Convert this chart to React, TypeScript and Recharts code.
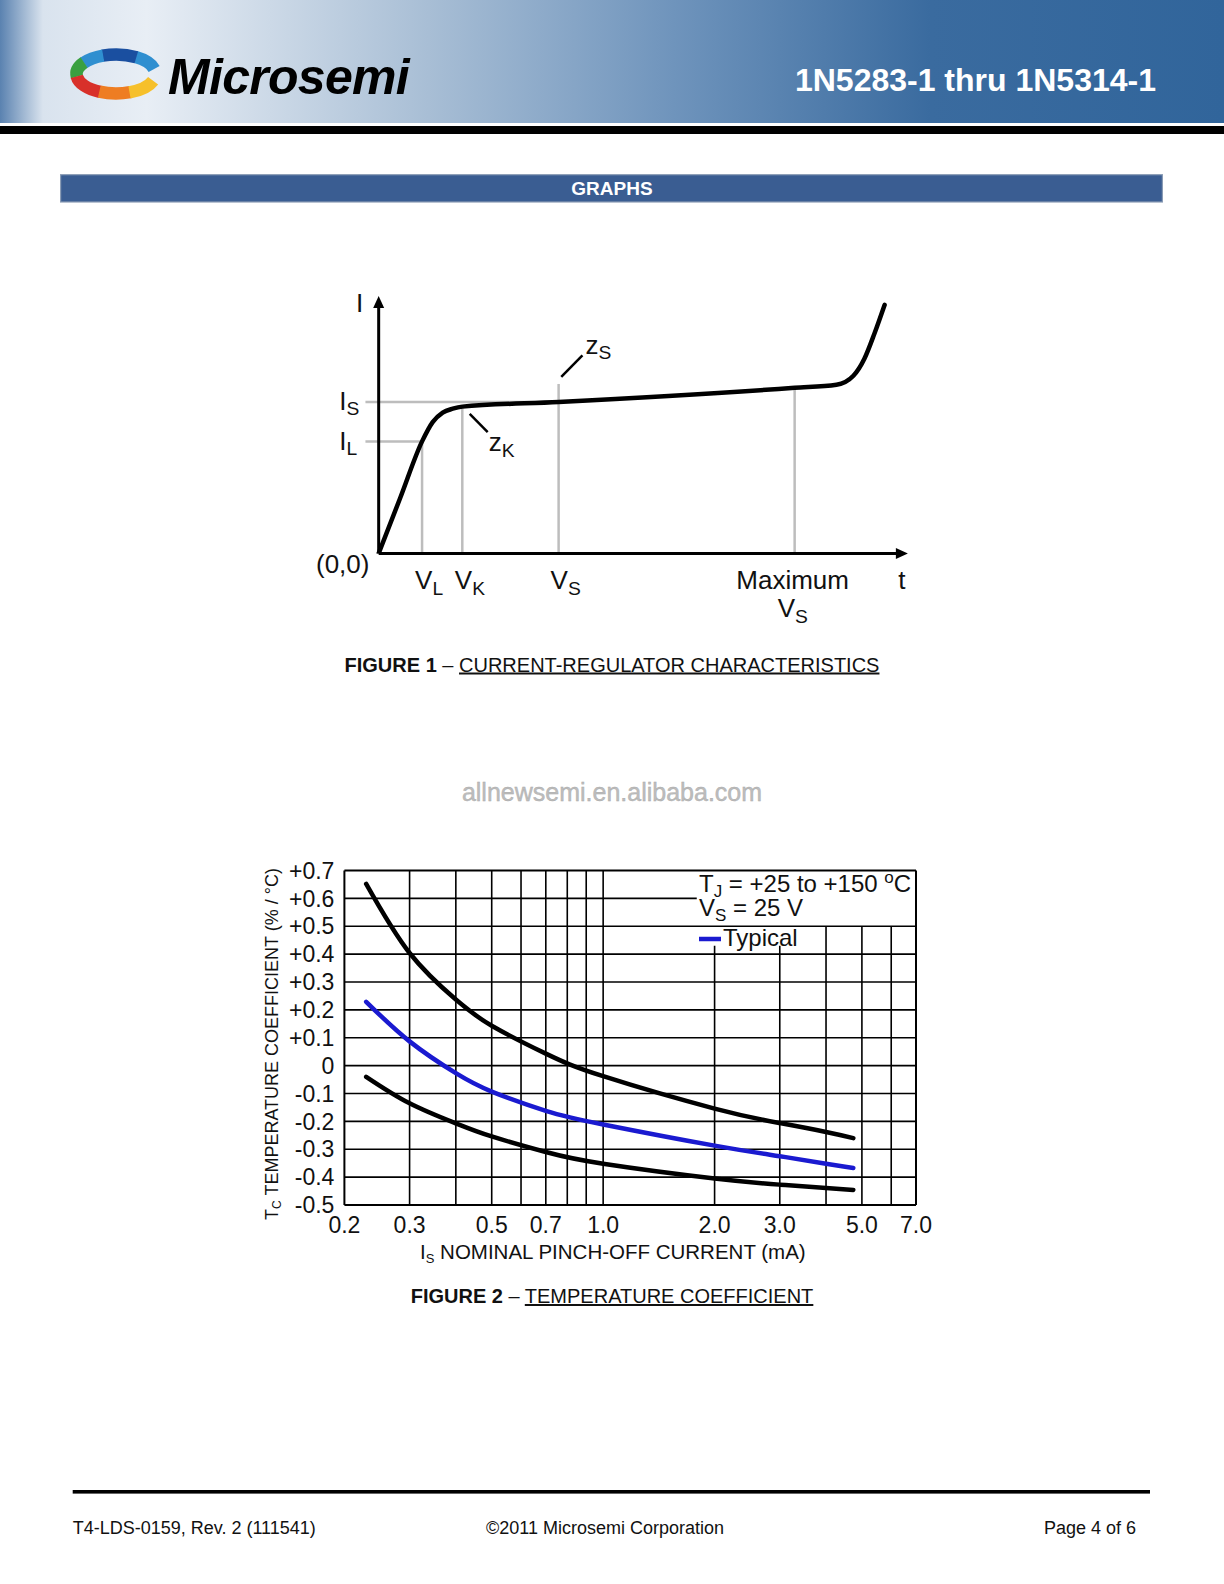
import React from "react";
import { LineChart, Line, XAxis, YAxis, ReferenceLine, ReferenceDot } from "recharts";

const FONT = "'Liberation Sans', Arial, Helvetica, sans-serif";
const INK = "#111";

// ---- Figure 1: current-regulator characteristic (schematic, arbitrary units) ----
const fig1V = [0, 4.1, 8.2, 10.2, 12.1, 14.0, 15.8, 34.0, 78.6, 86.5, 89.7, 91.8, 93.7, 95.6];
const fig1I = [0, 21.7, 43.5, 51.0, 54.7, 56.2, 57.0, 58.8, 64.3, 65.5, 69.0, 75.7, 85.5, 96.5];

const V_L = 8.2;
const V_K = 15.8;
const V_S = 34.0;
const V_MAX = 78.6;
const V_END = 100;
const I_L = 43.5;
const I_S = 58.8;
const I_END = 100;

const fig1XTicks = [V_L, V_K, V_S, V_MAX, V_END];
const fig1YTicks = [0, I_L, I_S, I_END];

// ---- Figure 2: temperature coefficient vs nominal pinch-off current ----
const isNominal = [0.229, 0.3, 0.4, 0.5, 0.7, 1.0, 2.0, 3.0, 4.0, 4.74];
const tcUpper = [0.652, 0.404, 0.237, 0.143, 0.043, -0.038, -0.154, -0.206, -0.238, -0.26];
const tcTypical = [0.229, 0.087, -0.027, -0.093, -0.162, -0.211, -0.287, -0.325, -0.352, -0.367];
const tcLower = [-0.04, -0.135, -0.207, -0.254, -0.31, -0.352, -0.405, -0.427, -0.439, -0.446];

const fig2XTicks = [0.2, 0.3, 0.5, 0.7, 1.0, 2.0, 3.0, 5.0, 7.0];
const fig2YTicks = [-0.5, -0.4, -0.3, -0.2, -0.1, 0, 0.1, 0.2, 0.3, 0.4, 0.5, 0.6, 0.7];
// vertical grid lines and how high each one runs (legend box hides the tops)
const fig2GridX = [0.3, 0.4, 0.5, 0.6, 0.7, 0.8, 0.9, 1, 2, 3, 4, 5, 6];
const fig2GridXTop = [0.7, 0.7, 0.7, 0.7, 0.7, 0.7, 0.7, 0.7, 0.43, 0.43, 0.5, 0.5, 0.5];
const fig2GridY = [-0.4, -0.3, -0.2, -0.1, 0, 0.1, 0.2, 0.3, 0.4, 0.5];
const LEGEND_LEFT = 1.79;

const fig1Data = fig1V.map((v, i) => ({ v, i: fig1I[i] }));
const fig2Data = isNominal.map((x, i) => ({
  x,
  upper: tcUpper[i],
  typical: tcTypical[i],
  lower: tcLower[i],
}));

function SubText({ x, y, main, sub, anchor = "start", size = 26 }: any) {
  return (
    <text x={x} y={y} textAnchor={anchor} fontFamily={FONT} fontSize={size} fill={INK}>
      {main}
      <tspan fontSize={size * 0.74} dy={size * 0.2}>
        {sub}
      </tspan>
    </text>
  );
}

function Fig1XTick({ x, y, payload }: any) {
  const v = payload.value;
  if (v === V_L) return <SubText x={x - 7} y={y + 36} main="V" sub="L" />;
  if (v === V_K) return <SubText x={x - 7.5} y={y + 36} main="V" sub="K" />;
  if (v === V_S) return <SubText x={x - 8} y={y + 36} main="V" sub="S" />;
  if (v === V_MAX)
    return (
      <g>
        <text x={x - 2} y={y + 36} textAnchor="middle" fontFamily={FONT} fontSize={26} fill={INK}>
          Maximum
        </text>
        <SubText x={x - 17} y={y + 64} main="V" sub="S" />
      </g>
    );
  return (
    <text x={x - 6} y={y + 36} textAnchor="middle" fontFamily={FONT} fontSize={26} fill={INK}>
      t
    </text>
  );
}

function Fig1YTick({ x, y, payload }: any) {
  const v = payload.value;
  if (v === I_END)
    return (
      <text x={x - 6.8} y={y + 16} fontFamily={FONT} fontSize={26} fill={INK}>
        I
      </text>
    );
  if (v === I_S) return <SubText x={x - 23.5} y={y + 8} main="I" sub="S" />;
  if (v === I_L) return <SubText x={x - 23.5} y={y + 8.7} main="I" sub="L" />;
  return (
    <text x={x - 46.8} y={y + 20} fontFamily={FONT} fontSize={26} fill={INK}>
      (0,0)
    </text>
  );
}

const GRAY = "#bdbdbd";

function Figure1() {
  return (
    <LineChart
      width={640}
      height={370}
      data={fig1Data}
      margin={{ top: 25.9, right: 32.1, bottom: 6.6, left: 2.8 }}
    >
      <XAxis
        dataKey="v"
        type="number"
        domain={[-3, 100]}
        allowDataOverflow
        ticks={fig1XTicks}
        interval={0}
        tick={<Fig1XTick />}
        tickLine={false}
        axisLine={false}
        tickSize={0}
        tickMargin={0}
        height={80}
      />
      <YAxis
        type="number"
        domain={[0, 100]}
        allowDataOverflow
        ticks={fig1YTicks}
        interval={0}
        tick={<Fig1YTick />}
        tickLine={false}
        axisLine={false}
        tickSize={0}
        tickMargin={0}
        width={60}
      />
      {/* guide lines */}
      <ReferenceLine segment={[{ x: -2.5, y: I_L }, { x: V_L, y: I_L }]} stroke={GRAY} strokeWidth={2.5} />
      <ReferenceLine segment={[{ x: -2.5, y: I_S }, { x: V_S, y: I_S }]} stroke={GRAY} strokeWidth={2.5} />
      <ReferenceLine segment={[{ x: V_L, y: 0 }, { x: V_L, y: I_L }]} stroke={GRAY} strokeWidth={2.5} />
      <ReferenceLine segment={[{ x: V_K, y: 0 }, { x: V_K, y: 57.0 }]} stroke={GRAY} strokeWidth={2.5} />
      <ReferenceLine segment={[{ x: V_S, y: 0 }, { x: V_S, y: 65.8 }]} stroke={GRAY} strokeWidth={2.5} />
      <ReferenceLine segment={[{ x: V_MAX, y: 0 }, { x: V_MAX, y: 64.3 }]} stroke={GRAY} strokeWidth={2.5} />
      {/* axes with arrows */}
      <ReferenceLine segment={[{ x: 0, y: 0 }, { x: 0, y: 96 }]} stroke="#000" strokeWidth={3} />
      <ReferenceLine segment={[{ x: 0, y: 0 }, { x: 98, y: 0 }]} stroke="#000" strokeWidth={3} />
      <ReferenceDot
        x={0}
        y={I_END}
        shape={(p: any) => (
          <path d={`M${p.cx} ${p.cy} L${p.cx - 5.5} ${p.cy + 12} L${p.cx + 5.5} ${p.cy + 12} Z`} fill="#000" />
        )}
      />
      <ReferenceDot
        x={V_END}
        y={0}
        shape={(p: any) => (
          <path d={`M${p.cx} ${p.cy} L${p.cx - 12} ${p.cy - 5.5} L${p.cx - 12} ${p.cy + 5.5} Z`} fill="#000" />
        )}
      />
      {/* impedance call-outs */}
      <ReferenceLine segment={[{ x: 34.5, y: 68.6 }, { x: 38.5, y: 76.9 }]} stroke="#000" strokeWidth={2.5} />
      <ReferenceLine segment={[{ x: 17.2, y: 54.2 }, { x: 20.6, y: 47.1 }]} stroke="#000" strokeWidth={2.5} />
      <ReferenceDot x={39.1} y={77.4} shape={(p: any) => <SubText x={p.cx} y={p.cy} main="z" sub="S" />} />
      <ReferenceDot x={20.8} y={39.6} shape={(p: any) => <SubText x={p.cx} y={p.cy} main="z" sub="K" />} />
      <Line
        dataKey="i"
        type="monotone"
        stroke="#000"
        strokeWidth={4.5}
        dot={false}
        isAnimationActive={false}
        strokeLinecap="round"
      />
    </LineChart>
  );
}

const fmtTc = (v: number) => (Math.abs(v) < 1e-9 ? "0" : (v > 0 ? "+" : "") + v.toFixed(1));

function Figure2() {
  return (
    <LineChart
      width={700}
      height={420}
      data={fig2Data}
      margin={{ top: 20.5, right: 34, bottom: 5, left: 0 }}
    >
      <XAxis
        dataKey="x"
        type="number"
        scale="log"
        domain={[0.2, 7]}
        allowDataOverflow
        ticks={fig2XTicks}
        interval={0}
        tickFormatter={(v: number) => v.toFixed(1)}
        tick={{ fill: INK, fontSize: 23, fontFamily: FONT }}
        tickLine={false}
        tickSize={0}
        tickMargin={12}
        axisLine={{ stroke: "#000", strokeWidth: 2 }}
        height={60}
      />
      <YAxis
        type="number"
        domain={[-0.5, 0.7]}
        allowDataOverflow
        ticks={fig2YTicks}
        interval={0}
        tickFormatter={fmtTc}
        tick={{ fill: INK, fontSize: 23, fontFamily: FONT }}
        tickLine={false}
        tickSize={0}
        tickMargin={10}
        axisLine={{ stroke: "#000", strokeWidth: 2 }}
        width={94.4}
      />
      {fig2GridX.map((v, i) => (
        <ReferenceLine
          key={`gx-${v}`}
          segment={[{ x: v, y: -0.5 }, { x: v, y: fig2GridXTop[i] }]}
          stroke="#000"
          strokeWidth={1.6}
        />
      ))}
      {fig2GridY.map((v) => (
        <ReferenceLine key={`gy-${v}`} y={v} stroke="#000" strokeWidth={1.6} />
      ))}
      <ReferenceLine segment={[{ x: 0.2, y: 0.6 }, { x: LEGEND_LEFT, y: 0.6 }]} stroke="#000" strokeWidth={1.6} />
      <ReferenceLine y={0.7} stroke="#000" strokeWidth={2} />
      <ReferenceLine x={7} stroke="#000" strokeWidth={2} />
      <Line dataKey="upper" type="natural" stroke="#000" strokeWidth={4.5} dot={false} isAnimationActive={false} strokeLinecap="round" />
      <Line dataKey="lower" type="natural" stroke="#000" strokeWidth={4.5} dot={false} isAnimationActive={false} strokeLinecap="round" />
      <Line dataKey="typical" type="natural" stroke="#1a1ad0" strokeWidth={4.5} dot={false} isAnimationActive={false} strokeLinecap="round" />
    </LineChart>
  );
}

function arc(cx: number, cy: number, rx: number, ry: number, a0: number, a1: number) {
  const p = (a: number) => [cx + rx * Math.cos((a * Math.PI) / 180), cy - ry * Math.sin((a * Math.PI) / 180)];
  const [x0, y0] = p(a0);
  const [x1, y1] = p(a1);
  return `M${x0} ${y0} A${rx} ${ry} 0 ${a1 - a0 > 180 ? 1 : 0} 0 ${x1} ${y1}`;
}

const LOGO_SEGMENTS: [number, number, string][] = [
  [15, 60, "#2f8fd0"],
  [59, 110, "#1a4fa0"],
  [109, 145, "#2f8fd0"],
  [144, 188, "#3aa040"],
  [187, 246, "#d8302a"],
  [245, 291, "#ee7d22"],
  [290, 340, "#f6c02b"],
];

function PageDecor() {
  return (
    <svg width={1224} height={1584} style={{ position: "absolute", left: 0, top: 0 }} fontFamily={FONT}>
      <defs>
        <linearGradient id="hdr" x1="0" y1="0" x2="1" y2="0">
          <stop offset="0" stopColor="#5a82b0" />
          <stop offset="0.035" stopColor="#d9e3ee" />
          <stop offset="0.12" stopColor="#e8eef5" />
          <stop offset="0.35" stopColor="#a8bed5" />
          <stop offset="0.55" stopColor="#6f94bc" />
          <stop offset="0.76" stopColor="#3a6b9f" />
          <stop offset="1" stopColor="#31659b" />
        </linearGradient>
      </defs>
      <rect x={0} y={0} width={1224} height={123} fill="url(#hdr)" />
      <rect x={0} y={126} width={1224} height={8} fill="#000" />
      {LOGO_SEGMENTS.map(([a0, a1, c]) => (
        <path key={a0} d={arc(116, 74, 39.5, 19.5, a0, a1)} stroke={c} strokeWidth={12.5} fill="none" />
      ))}
      <text x={168} y={94} fontSize={50} fontWeight="bold" fontStyle="italic" letterSpacing={-0.7} fill="#000">
        Microsemi
      </text>
      <text x={1156} y={91} textAnchor="end" fontSize={32} fontWeight="bold" fill="#fff">
        1N5283-1 thru 1N5314-1
      </text>

      <rect x={60.6} y={174.7} width={1101.8} height={27.3} fill="#3a5d92" stroke="#8a9cb5" strokeWidth={1.2} />
      <text x={612} y={195} textAnchor="middle" fontSize={19} fontWeight="bold" fill="#fff">
        GRAPHS
      </text>

      <text x={612} y={671.5} textAnchor="middle" fontSize={20} fill={INK}>
        <tspan fontWeight="bold">FIGURE 1</tspan>
        <tspan> – </tspan>
        <tspan textDecoration="underline">CURRENT-REGULATOR CHARACTERISTICS</tspan>
      </text>

      <text x={612} y={801} textAnchor="middle" fontSize={25} fill="#bdbdbd" stroke="#a9a9a9" strokeWidth={0.4}>
        allnewsemi.en.alibaba.com
      </text>

      {/* figure 2 axis titles and legend */}
      <text transform="translate(278 1044) rotate(-90)" textAnchor="middle" fontSize={18} fill={INK}>
        T<tspan fontSize={12} dy={3}>C</tspan>
        <tspan dy={-3}> TEMPERATURE COEFFICIENT (% / °C)</tspan>
      </text>
      <text x={420} y={1259} fontSize={20.5} fill={INK}>
        I<tspan fontSize={13} dy={4}>S</tspan>
        <tspan dy={-4}> NOMINAL PINCH-OFF CURRENT (mA)</tspan>
      </text>
      <text x={699} y={892} fontSize={24} fill={INK}>
        T<tspan fontSize={17} dy={5}>J</tspan>
        <tspan dy={-5}> = +25 to +150 </tspan>
        <tspan fontSize={17} dy={-9}>o</tspan>
        <tspan dy={9}>C</tspan>
      </text>
      <text x={699} y={916} fontSize={24} fill={INK}>
        V<tspan fontSize={17} dy={5}>S</tspan>
        <tspan dy={-5}> = 25 V</tspan>
      </text>
      <line x1={699} y1={939} x2={721} y2={939} stroke="#1a1ad0" strokeWidth={4.5} />
      <text x={723} y={946} fontSize={24} fill={INK}>
        Typical
      </text>

      <text x={612} y={1303} textAnchor="middle" fontSize={20} fill={INK}>
        <tspan fontWeight="bold">FIGURE 2</tspan>
        <tspan> – </tspan>
        <tspan textDecoration="underline">TEMPERATURE COEFFICIENT</tspan>
      </text>

      <rect x={72.7} y={1490} width={1077.3} height={3.6} fill="#000" />
      <text x={72.7} y={1533.5} fontSize={18} fill={INK}>
        T4-LDS-0159, Rev. 2 (111541)
      </text>
      <text x={486} y={1533.5} fontSize={18} fill={INK}>
        ©2011 Microsemi Corporation
      </text>
      <text x={1136} y={1533.5} textAnchor="end" fontSize={18} fill={INK}>
        Page 4 of 6
      </text>
    </svg>
  );
}

export default function App() {
  return (
    <div style={{ position: "absolute", left: 0, top: 0, width: 1224, height: 1584, background: "#fff", overflow: "hidden" }}>
      <PageDecor />
      <div style={{ position: "absolute", left: 300, top: 270 }}>
        <Figure1 />
      </div>
      <div style={{ position: "absolute", left: 250, top: 850 }}>
        <Figure2 />
      </div>
    </div>
  );
}
